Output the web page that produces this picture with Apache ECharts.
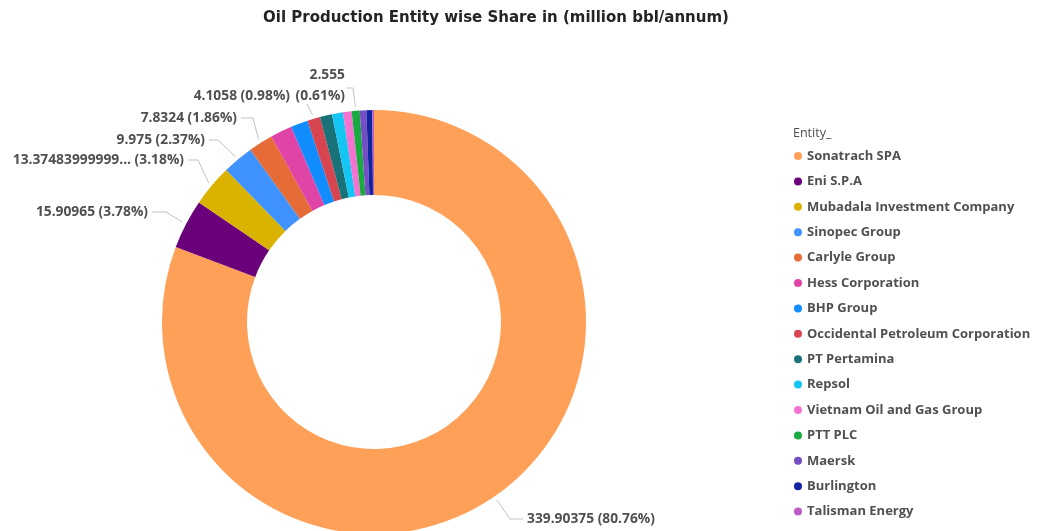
<!DOCTYPE html>
<html>
<head>
<meta charset="utf-8">
<title>Oil Production Entity wise Share</title>
<script src="https://cdn.jsdelivr.net/npm/echarts@6/dist/echarts.min.js"></script>
<style>
  html, body { margin: 0; padding: 0; background: #ffffff; }
  #chart { width: 1037px; height: 531px; }
</style>
</head>
<body>
<div id="chart"></div>
<script>
// Entities, in legend order (descending production)
const entities = [
  'Sonatrach SPA', 'Eni S.P.A', 'Mubadala Investment Company', 'Sinopec Group',
  'Carlyle Group', 'Hess Corporation', 'BHP Group', 'Occidental Petroleum Corporation',
  'PT Pertamina', 'Repsol', 'Vietnam Oil and Gas Group', 'PTT PLC', 'Maersk',
  'Burlington', 'Talisman Energy'
];

// Oil production, million bbl/annum
const production = [
  339.90375, 15.90965, 13.37483999999999, 9.975,
  7.8324, 7.0, 5.5, 4.1058,
  3.9, 3.5, 2.8, 2.555, 2.1,
  1.9, 0.52
];

// Slice colours
const palette = [
  '#FFA058', '#6B007B', '#D9B300', '#4092FF',
  '#E66C37', '#E044A7', '#118DFF', '#D64550',
  '#197278', '#15C6F4', '#F472D0', '#1AAB40', '#744EC2',
  '#12239E', '#BE5DC9'
];

// Where the visible data labels sit and how their leader lines bend
const labelSpots = {
  'Sonatrach SPA':                    { x: 527, y: 519, align: 'left',  elbow: [510, 519], end: [523, 519] },
  'Eni S.P.A':                        { x: 148, y: 212, align: 'right', elbow: [166, 212], end: [152, 212] },
  'Mubadala Investment Company':      { x: 184, y: 160, align: 'right', elbow: [198, 160], end: [188, 160] },
  'Sinopec Group':                    { x: 205, y: 140, align: 'right', elbow: [218, 140], end: [209, 140] },
  'Carlyle Group':                    { x: 237, y: 118, align: 'right', elbow: [253, 118], end: [241, 118] },
  'Occidental Petroleum Corporation': { x: 290, y: 96,  align: 'right', elbow: [307, 104], end: [307, 104] },
  'PTT PLC':                          { x: 345, y: 86,  align: 'right', elbow: [353, 88],  end: [347, 88] }
};

function valueText(v) {
  const s = String(v);
  return s.length > 14 ? s.slice(0, 14) + '...' : s;
}

const pieData = entities.map(function (name, i) {
  const shown = !!labelSpots[name];
  return {
    name: name,
    value: production[i],
    itemStyle: { color: palette[i] },
    label: { show: shown },
    labelLine: { show: shown }
  };
});

const chart = echarts.init(document.getElementById('chart'), null, { renderer: 'canvas' });

chart.setOption({
  animation: false,
  backgroundColor: '#ffffff',
  title: [
    {
      text: 'Oil Production Entity wise Share in (million bbl/annum)',
      left: 263,
      top: 11,
      padding: 0,
      textStyle: {
        fontFamily: 'DejaVu Sans',
        fontWeight: 'bold',
        fontSize: 15,
        color: '#252423'
      }
    },
    {
      text: 'Entity_',
      left: 793,
      top: 127,
      padding: 0,
      textStyle: {
        fontFamily: 'Open Sans',
        fontWeight: 'normal',
        fontSize: 12.5,
        color: '#505050'
      }
    }
  ],
  legend: {
    orient: 'vertical',
    left: 794,
    top: 149,
    padding: 0,
    icon: 'circle',
    itemWidth: 8,
    itemHeight: 8,
    itemGap: 11.4,
    selectedMode: false,
    textStyle: {
      fontFamily: 'Open Sans',
      fontWeight: 'bold',
      fontSize: 13,
      lineHeight: 14,
      color: '#505050'
    },
    data: entities
  },
  series: [
    {
      type: 'pie',
      center: [374, 322],
      radius: [127, 212],
      startAngle: 90,
      clockwise: true,
      avoidLabelOverlap: false,
      emphasis: { disabled: true },
      label: {
        position: 'outside',
        fontFamily: 'Open Sans',
        fontWeight: 'bold',
        fontSize: 13.8,
        lineHeight: 21,
        color: '#505050',
        formatter: function (p) {
          const pct = '(' + p.percent.toFixed(2) + '%)';
          if (p.name === 'PTT PLC') return valueText(p.value) + '\n' + pct;
          return valueText(p.value) + ' ' + pct;
        }
      },
      labelLine: {
        show: true,
        length: 10,
        length2: 10,
        lineStyle: { color: '#C2C2C2', width: 1 }
      },
      labelLayout: function (p) {
        const spot = labelSpots[entities[p.dataIndex]];
        if (!spot || !p.labelLinePoints) return {};
        const a = p.labelLinePoints[0];
        const b = p.labelLinePoints[1];
        const dx = b[0] - a[0], dy = b[1] - a[1];
        const len = Math.hypot(dx, dy) || 1;
        const start = [a[0] + dx / len * 4, a[1] + dy / len * 4];
        return {
          x: spot.x,
          y: spot.y,
          align: spot.align,
          verticalAlign: 'middle',
          labelLinePoints: [start, spot.elbow, spot.end]
        };
      },
      data: pieData
    }
  ]
});
</script>
</body>
</html>
